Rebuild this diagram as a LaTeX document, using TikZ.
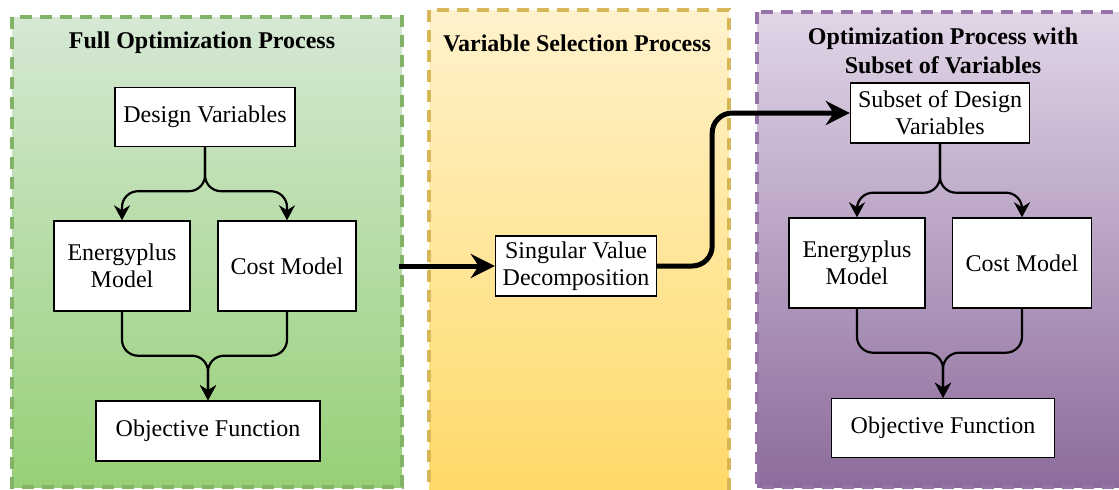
\documentclass[tikz,border=0pt]{standalone}
\usepackage{fontspec}
\setmainfont{Liberation Serif}
\usetikzlibrary{arrows.meta}
\definecolor{grnlight}{HTML}{D5E8D4}
\definecolor{grndark}{HTML}{97D077}
\definecolor{grnline}{HTML}{82B366}
\definecolor{ylwlight}{HTML}{FFF2CC}
\definecolor{ylwdark}{HTML}{FFD966}
\definecolor{ylwline}{HTML}{D6B656}
\definecolor{prplight}{HTML}{E1D5E7}
\definecolor{prpdark}{HTML}{8C6C9C}
\definecolor{prpline}{HTML}{9673A6}
\begin{document}
\begin{tikzpicture}[x=0.5pt,y=-0.5pt,
  panel/.style={line width=1.6pt,dash pattern=on 6pt off 4pt},
  box/.style={draw,fill=white,line width=0.7pt,align=center,inner sep=2pt,
    font=\fontsize{12}{13.5}\selectfont},
  ttl/.style={align=center,font=\fontsize{12}{14.5}\selectfont\bfseries},
  link/.style={line width=1.1pt,-{Stealth[length=7.5pt,width=8pt]},rounded corners=8pt},
  flow/.style={line width=2.5pt,-{Stealth[length=12pt,width=12pt]},rounded corners=10pt}]
\clip (0,0) rectangle (1119,489);
\fill[white] (0,0) rectangle (1119,489);

% panels
\draw[panel,draw=grnline,top color=grnlight,bottom color=grndark] (12,17) rectangle (402,487);
\draw[panel,draw=ylwline,top color=ylwlight,bottom color=ylwdark] (429,10) rectangle (729,500);
\draw[panel,draw=prpline,top color=prplight,bottom color=prpdark] (757,12) rectangle (1130,487);

\node[ttl] (t1) at (202,43) {Full Optimization Process};
\node[ttl] (t2) at (577,43) {Variable Selection Process};
\node[ttl] (t3) at (943,51) {Optimization Process with\\Subset of Variables};

% full optimization
\node[box,minimum width=90pt,minimum height=29.5pt] (dv) at (205,117) {Design Variables};
\node[box,minimum width=68pt,minimum height=45pt] (ep) at (122,266) {Energyplus\\Model};
\node[box,minimum width=69pt,minimum height=45pt] (cm) at (287,266) {Cost Model};
\node[box,minimum width=112pt,minimum height=30pt] (of) at (208,431) {Objective Function};

\draw[link] (dv.south) -- ++(0,44) -| (ep.north);
\draw[link] (dv.south) -- ++(0,44) -| (cm.north);
\draw[link] (ep.south) -- ++(0,44) -| (of.north);
\draw[link] (cm.south) -- ++(0,44) -| (of.north);

% variable selection
\node[box,minimum width=80.5pt,minimum height=30pt] (svd) at (576,266) {Singular Value\\Decomposition};
\coordinate (gout) at (399,266);
\draw[flow] (gout) -- (svd.west);

% subset optimization
\node[box,minimum width=89.5pt,minimum height=30pt] (sub) at (940,113) {Subset of Design\\Variables};
\node[box,minimum width=68pt,minimum height=45pt] (ep2) at (857,263) {Energyplus\\Model};
\node[box,minimum width=69.5pt,minimum height=45pt] (cm2) at (1022,263) {Cost Model};
\node[box,minimum width=111.5pt,minimum height=29.5pt] (of2) at (943,428) {Objective Function};

\draw[flow] (svd.east) -- ++(55,0) |- (sub.west);
\draw[link] (sub.south) -- ++(0,49) -| (ep2.north);
\draw[link] (sub.south) -- ++(0,49) -| (cm2.north);
\draw[link] (ep2.south) -- ++(0,44) -| (of2.north);
\draw[link] (cm2.south) -- ++(0,44) -| (of2.north);
\end{tikzpicture}
\end{document}
